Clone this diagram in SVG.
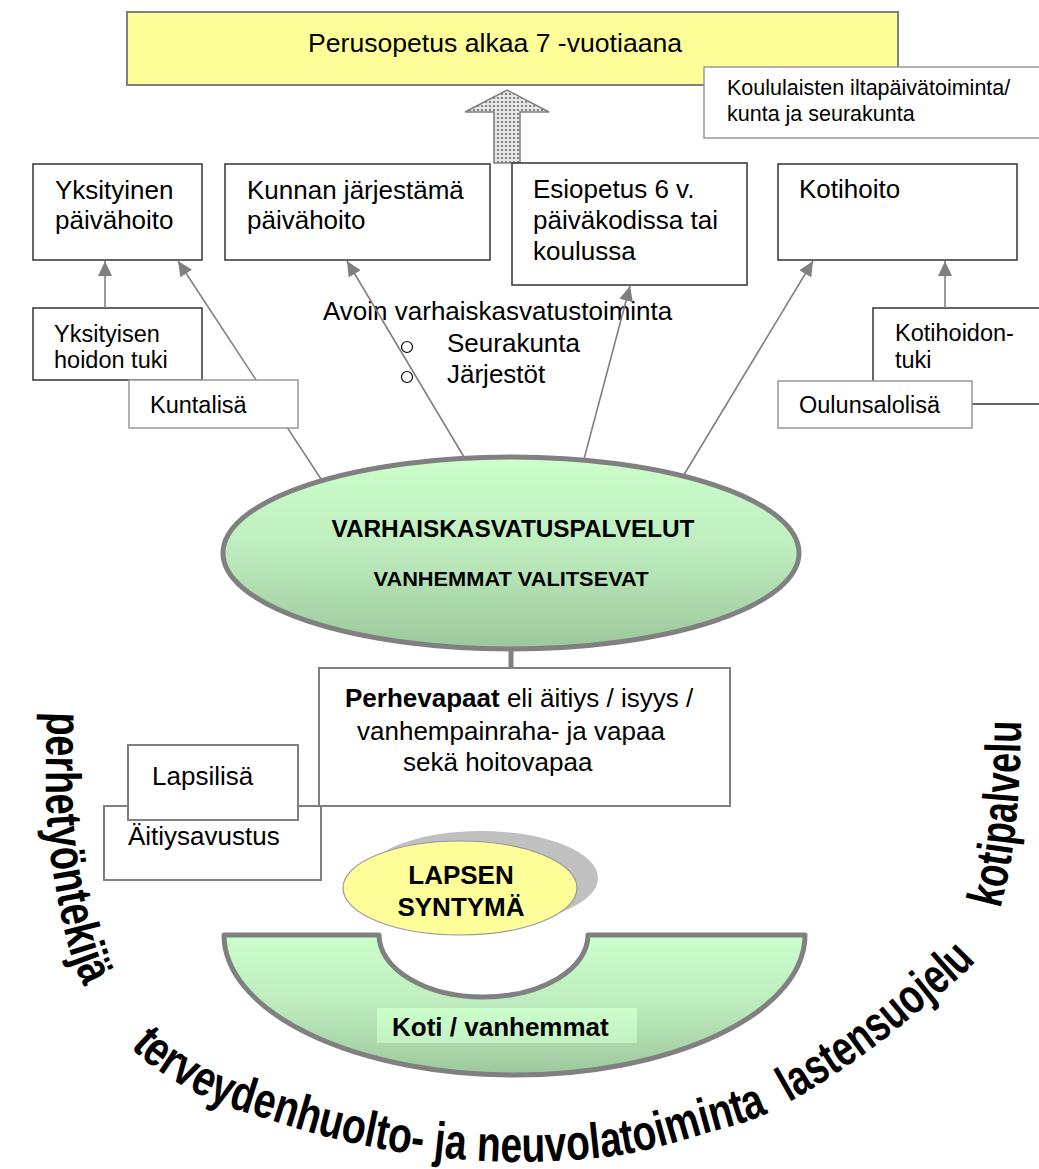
<svg xmlns="http://www.w3.org/2000/svg" width="1039" height="1169" viewBox="0 0 1039 1169">
<style>
text{font-family:"Liberation Sans",Arial,sans-serif;fill:#000}
.t26{font-size:26px}
.t23{font-size:23.5px}
.t21{font-size:21.5px}
.b{font-weight:bold}
.box{fill:#fff;stroke:#333;stroke-width:1.5}
.gbox{fill:#fff;stroke:#808080;stroke-width:2}
.lbox{fill:#fff;stroke:#999;stroke-width:1.5}
.conn{stroke:#808080;stroke-width:1.6;fill:none}
.arc{font-size:50px;font-weight:bold}
</style>
<defs>
<marker id="ah" markerWidth="15" markerHeight="14" refX="15" refY="7" orient="auto" markerUnits="userSpaceOnUse">
<path d="M0,0 L15,7 L0,14 Z" fill="#808080"/>
</marker>
<pattern id="dots" width="4" height="4" patternUnits="userSpaceOnUse">
<rect width="4" height="4" fill="#e6e6e6"/>
<circle cx="2" cy="2" r="1.1" fill="#6a6a6a"/>
</pattern>
<linearGradient id="green" x1="0" y1="0" x2="0" y2="1">
<stop offset="0" stop-color="#CCFFCC"/>
<stop offset="0.5" stop-color="#BDEBBD"/>
<stop offset="1" stop-color="#9CC79C"/>
</linearGradient>
<linearGradient id="green2" x1="0" y1="0" x2="0" y2="1">
<stop offset="0" stop-color="#CCFFCC"/>
<stop offset="1" stop-color="#C2F0C2"/>
</linearGradient>
<path id="arcpath" fill="none" d="M48,690 C47.7,708.3 44.7,766.7 46,800 C47.3,833.3 50.3,860.3 56,890 C61.7,919.7 67.2,951.3 80,978 C92.8,1004.7 113,1030.5 133,1050 C153,1069.5 177.2,1083.3 200,1095 C222.8,1106.7 246.7,1112.5 270,1120 C293.3,1127.5 315,1134.2 340,1140 C365,1145.8 390,1151.3 420,1155 C450,1158.7 486.7,1162 520,1162 C553.3,1162 590,1159.5 620,1155 C650,1150.5 675,1142.2 700,1135 C725,1127.8 744.5,1124.2 770,1112 C795.5,1099.8 828,1079 853,1062 C878,1045 898.8,1027.8 920,1010 C941.2,992.2 965.8,975 980,955 C994.2,935 998.7,915.8 1005,890 C1011.3,864.2 1015.2,833.3 1018,800 C1020.8,766.7 1021.3,708.3 1022,690"/>
</defs>

<rect width="1039" height="1169" fill="#fff"/>

<g id="perusopetus">
<rect x="127" y="12" width="771" height="73" fill="#FFFF99" stroke="#808080" stroke-width="2"/>
<text font-size="26.6" x="308" y="52">Perusopetus alkaa 7 -vuotiaana</text>
</g>

<g id="block-arrow">
<path d="M507,90 L549,112 L520,112 L520,163 L494,163 L494,112 L465,112 Z" fill="url(#dots)" stroke="#808080" stroke-width="1.5"/>
</g>

<g id="koululaisten">
<rect x="704" y="67" width="345" height="71" class="lbox" stroke="#808080"/>
<text class="t21" x="727" y="95">Koululaisten iltapäivätoiminta/</text>
<text class="t21" x="727" y="121">kunta ja seurakunta</text>
</g>

<g id="yksityinen">
<rect x="33" y="164" width="169" height="96" class="box"/>
<text class="t26" x="55" y="199">Yksityinen</text>
<text class="t26" x="55" y="229">päivähoito</text>
</g>

<g id="kunnan">
<rect x="225" y="164" width="265" height="96" class="box"/>
<text class="t26" x="247" y="199">Kunnan järjestämä</text>
<text class="t26" x="247" y="229">päivähoito</text>
</g>

<g id="esiopetus">
<rect x="512" y="163" width="235" height="122" class="box"/>
<text class="t26" x="533" y="198">Esiopetus 6 v.</text>
<text class="t26" x="533" y="229">päiväkodissa tai</text>
<text class="t26" x="533" y="260">koulussa</text>
</g>

<g id="kotihoito">
<rect x="778" y="164" width="239" height="96" class="box"/>
<text class="t26" x="799" y="198">Kotihoito</text>
</g>

<g id="yksityisen-tuki">
<rect x="33" y="308" width="169" height="72" class="box"/>
<text class="t23" x="54" y="342">Yksityisen</text>
<text class="t23" x="54" y="368">hoidon tuki</text>
</g>

<g id="kotihoidon-tuki">
<rect x="873" y="308" width="176" height="96" class="box"/>
<text class="t23" x="895" y="341">Kotihoidon-</text>
<text class="t23" x="895" y="368">tuki</text>
</g>

<g id="avoin">
<text class="t26" x="323" y="320">Avoin varhaiskasvatustoiminta</text>
<circle cx="407" cy="347" r="5.5" fill="none" stroke="#000" stroke-width="1.2"/>
<text class="t26" x="447" y="352">Seurakunta</text>
<circle cx="407" cy="377" r="5.5" fill="none" stroke="#000" stroke-width="1.2"/>
<text class="t26" x="447" y="383">Järjestöt</text>
</g>

<g id="varhaiskasvatus">
<ellipse cx="511" cy="553" rx="288" ry="96" fill="url(#green)" stroke="#808080" stroke-width="5"/>
<text class="b" font-size="24" x="513" y="537" text-anchor="middle" textLength="363" lengthAdjust="spacingAndGlyphs">VARHAISKASVATUSPALVELUT</text>
<text class="b" font-size="21" x="511" y="586" text-anchor="middle" textLength="275" lengthAdjust="spacingAndGlyphs">VANHEMMAT VALITSEVAT</text>
</g>

<g id="connectors">
<line class="conn" x1="105" y1="308" x2="105" y2="261" marker-end="url(#ah)"/>
<line class="conn" x1="945" y1="308" x2="945" y2="261" marker-end="url(#ah)"/>
<line class="conn" x1="321" y1="479" x2="178" y2="261" marker-end="url(#ah)"/>
<line class="conn" x1="464" y1="457" x2="347" y2="261" marker-end="url(#ah)"/>
<line class="conn" x1="584" y1="459" x2="630" y2="286" marker-end="url(#ah)"/>
<line class="conn" x1="682" y1="478" x2="813" y2="261" marker-end="url(#ah)"/>
<line x1="511" y1="648" x2="511" y2="668" stroke="#808080" stroke-width="5"/>
</g>

<g id="kuntalisa">
<rect x="129" y="380" width="169" height="48" class="lbox"/>
<text class="t23" x="150" y="413">Kuntalisä</text>
</g>

<g id="oulunsalolisa">
<rect x="778" y="381" width="194" height="47" class="lbox"/>
<text class="t23" x="799" y="413">Oulunsalolisä</text>
</g>

<g id="perhevapaat">
<rect x="319" y="668" width="411" height="138" class="gbox"/>
<text class="t26" x="345" y="707"><tspan class="b">Perhevapaat</tspan> eli äitiys / isyys /</text>
<text class="t26" x="357" y="740">vanhempainraha- ja vapaa</text>
<text class="t26" x="403" y="771">sekä hoitovapaa</text>
</g>

<g id="aitiysavustus">
<rect x="104" y="806" width="217" height="74" class="gbox"/>
<text class="t26" x="128" y="845">Äitiysavustus</text>
</g>

<g id="lapsilisa">
<rect x="128" y="745" width="170" height="75" class="gbox"/>
<text class="t26" x="152" y="785">Lapsilisä</text>
</g>

<g id="koti">
<path d="M224,935 L379,935 A104.5,62 0 0 0 588,935 L805,935 A290.5,140 0 0 1 224,935 Z" fill="url(#green)" stroke="#808080" stroke-width="5" stroke-linejoin="round"/>
<rect x="377" y="1008" width="260" height="35" fill="url(#green2)"/>
<text class="b" font-size="26" x="392" y="1036">Koti / vanhemmat</text>
</g>

<g id="lapsen-syntyma">
<ellipse cx="481" cy="878" rx="117" ry="47" fill="#C0C0C0"/>
<ellipse cx="460" cy="888" rx="117" ry="47" fill="#FFFF99" stroke="#999" stroke-width="1.2"/>
<text class="b" font-size="26" x="461" y="884" text-anchor="middle">LAPSEN</text>
<text class="b" font-size="26" x="461" y="916" text-anchor="middle">SYNTYMÄ</text>
</g>

<g id="curved-text">
<text class="arc"><textPath href="#arcpath" startOffset="22" textLength="280" lengthAdjust="spacingAndGlyphs">perhetyöntekijä</textPath></text>
<text class="arc"><textPath href="#arcpath" startOffset="378" textLength="669" lengthAdjust="spacingAndGlyphs">terveydenhuolto- ja neuvolatoiminta</textPath></text>
<text class="arc"><textPath href="#arcpath" startOffset="1070" textLength="235" lengthAdjust="spacingAndGlyphs">lastensuojelu</textPath></text>
<text class="arc"><textPath href="#arcpath" startOffset="1363" textLength="189" lengthAdjust="spacingAndGlyphs">kotipalvelu</textPath></text>
</g>
</svg>
